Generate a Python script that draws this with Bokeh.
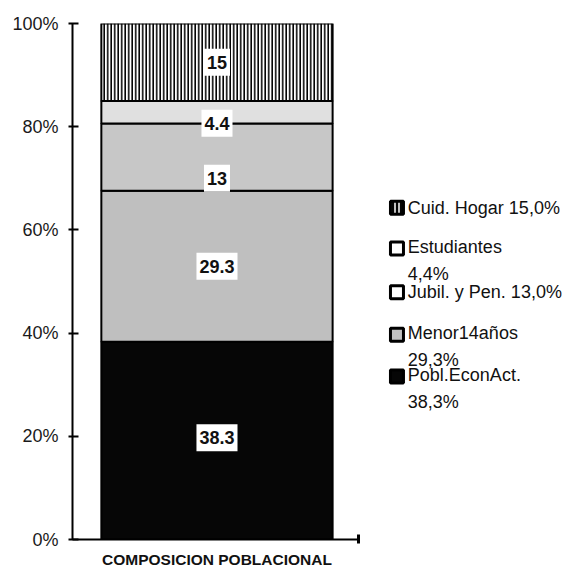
import numpy as np
from bokeh.plotting import figure
from bokeh.models import ColumnDataSource, Range1d, FixedTicker, PrintfTickFormatter, LinearAxis
from bokeh.core.properties import value
from bokeh.embed import file_html
from bokeh.resources import INLINE

# ---- data ----
categories = ["Pobl.EconAct.", "Menor14años", "Jubil. y Pen.", "Estudiantes", "Cuid. Hogar"]
values = [38.3, 29.3, 13.0, 4.4, 15.0]
y_ticks = [0, 20, 40, 60, 80, 100]
x_category = "COMPOSICION POBLACIONAL"
legend_wrap = [True, True, False, True, False]  # second line for value

# ---- styles ----
fills = ["#060606", "#bfbfbf", "#c7c7c7", "#e0e0e0", "white"]
hatches = [" ", " ", " ", " ", "|"]
label_yoff = [-3, 0, 21, 11, 0]
leg_y = [31.6, 39.7, 47.9, 56.4, 64.3]
leg_fill = ["#060606", "#c0c0c0", "white", "white", "#060606"]
leg_hatch = [" ", " ", " ", " ", "|"]
LH = 24
FONT = "Liberation Sans"

vals = np.array(values)
top = np.cumsum(vals)
bottom = top - vals
mid = (top + bottom) / 2

bar_x, bar_w = 2.93, 4.69
src = ColumnDataSource(dict(
    x=[bar_x] * len(vals), bottom=bottom, top=top, fill=fills, hatch=hatches,
    mid=mid, lab=[f"{v:g}" for v in values], yoff=label_yoff,
))

p = figure(width=573, height=570, output_backend="svg", toolbar_location=None,
           x_range=Range1d(0, 10.16), y_range=Range1d(0, 100),
           min_border_left=72, min_border_right=0, min_border_top=23, min_border_bottom=31)
p.outline_line_color = None
p.grid.visible = False
p.background_fill_color = "white"

p.vbar(x="x", width=bar_w, bottom="bottom", top="top", source=src,
       fill_color="fill", line_color="black", line_width=2,
       hatch_pattern="hatch", hatch_color="black", hatch_scale=3.5, hatch_weight=1.6)

p.text(x="x", y="mid", text="lab", source=src, y_offset="yoff",
       text_align="center", text_baseline="middle",
       text_font=value(FONT), text_font_size="18px", text_font_style="bold",
       text_color="#111111", background_fill_color="white",
       padding=dict(left=3, right=3, top=7, bottom=7))

# legend (drawn manually, top to bottom)
leg_text = []
leg_off = []
for name, v, wrap in zip(categories, values, legend_wrap):
    vs = f"{v:.1f}".replace(".", ",") + "%"
    leg_text.append(name + ("\n" if wrap else " ") + vs)
    leg_off.append(LH / 2 if wrap else 0)
lsrc = ColumnDataSource(dict(x=[6.58] * len(vals), tx=[6.8] * len(vals), y=leg_y,
                             fill=leg_fill, hatch=leg_hatch, text=leg_text, off=leg_off))
p.scatter(x="x", y="y", source=lsrc, marker="square", size=13, fill_color="fill",
          line_color="black", line_width=3, hatch_pattern="hatch", hatch_color="white",
          hatch_scale=4, hatch_weight=1.5)
p.text(x="tx", y="y", text="text", source=lsrc, y_offset="off",
       text_align="left", text_baseline="middle", text_line_height=1.33,
       text_font=value(FONT), text_font_size="18px", text_color="#111111")

# axes
ya = p.yaxis[0]
ya.ticker = FixedTicker(ticks=y_ticks)
ya.formatter = PrintfTickFormatter(format="%d%%")
ya.axis_line_width = 2
ya.axis_line_color = "black"
ya.major_tick_line_width = 2
ya.major_tick_in = 6
ya.major_tick_out = 4
ya.minor_tick_line_color = None
ya.major_label_standoff = 10
ya.major_label_text_font = FONT
ya.major_label_text_font_size = "18px"
ya.major_label_text_color = "#1a1a1a"

xa = p.xaxis[0]
x_end = 5.8
xa.bounds = (0, x_end)
xa.ticker = FixedTicker(ticks=[x_end])
xa.major_label_overrides = {x_end: ""}
xa.major_label_text_font_size = "0px"
xa.major_label_standoff = 0
xa.axis_line_width = 2
xa.axis_line_color = "black"
xa.major_tick_line_width = 3
xa.major_tick_in = 5
xa.major_tick_out = 4
xa.minor_tick_line_color = None

# category label axis (no line, no ticks), label under the bar centre
xa2 = LinearAxis(ticker=FixedTicker(ticks=[bar_x]),
                 major_label_overrides={bar_x: x_category})
xa2.axis_line_color = None
xa2.major_tick_line_color = None
xa2.minor_tick_line_color = None
xa2.major_tick_out = 0
xa2.major_tick_in = 0
xa2.major_label_standoff = 7
xa2.major_label_text_font = FONT
xa2.major_label_text_font_size = "15.5px"
xa2.major_label_text_font_style = "bold"
xa2.major_label_text_color = "#111111"
p.add_layout(xa2, "below")

open("out.html", "w").write(file_html(p, INLINE))
